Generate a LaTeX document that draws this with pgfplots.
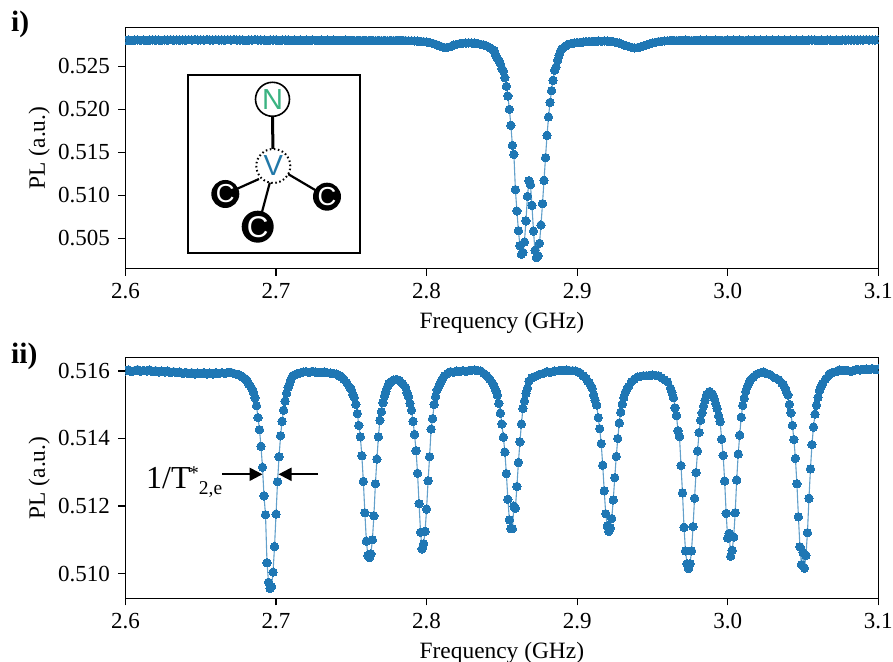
\documentclass[border=0pt]{standalone}
\usepackage{pgfplots}
\pgfplotsset{compat=1.18}
\usepackage{fontspec}
\setmainfont{Liberation Serif}
\newfontfamily\hel{Liberation Sans}
\usetikzlibrary{arrows.meta}
\definecolor{tabblue}{HTML}{1F77B4}
\definecolor{nv}{HTML}{3BB382}
\definecolor{vv}{HTML}{2178A8}
\newcommand{\fs}{\fontsize{23bp}{26bp}\selectfont}
\pgfplotsset{panel/.style={
  scale only axis,width=752.7bp,xmin=2.6,xmax=3.1,
  axis line style={line width=1.2bp,black},
  tick style={line width=1.1bp,black},
  tick align=outside,major tick length=7bp,
  xtick={2.6,2.7,2.8,2.9,3.0,3.1},
  xtick pos=bottom,ytick pos=left,
  scaled ticks=false,clip marker paths=true,
  tick label style={font=\fs,inner sep=0pt},
  label style={font=\fontsize{23.4bp}{26bp}\selectfont,inner sep=0pt},
  xticklabel style={anchor=base,yshift=-23bp,/pgf/number format/.cd,fixed,fixed zerofill,precision=1,assume math mode=true},
  yticklabel style={anchor=east,xshift=-8.5bp,/pgf/number format/.cd,fixed,fixed zerofill,precision=3,assume math mode=true},
  xlabel={Frequency (GHz)},ylabel={PL (a.u.)},
  xlabel style={at={(axis description cs:0.5,0)},anchor=base,yshift=-60bp},
  ylabel style={at={(axis description cs:0,0.5)},anchor=base,yshift=80.5bp},
  },
  ser/.style={color=tabblue,draw opacity=0.7,line width=1.1bp,mark=*,mark size=4.2bp,
   mark options={draw=tabblue,fill=tabblue,draw opacity=1,fill opacity=1,line width=0pt}}}
\begin{document}
\begin{tikzpicture}[x=1bp,y=1bp]
\path[use as bounding box] (0,0) rectangle (893,662);
\begin{axis}[panel,at={(125.5bp,393.3bp)},height=241.4bp,ymin=0.50147,ymax=0.52954,
 ytick={0.505,0.510,0.515,0.520,0.525}]
\addplot[ser] coordinates {
(2.600,.52802)(2.602,.52805)(2.604,.52800)(2.606,.52804)(2.608,.52807)(2.610,.52803)(2.612,.52806)(2.614,.52801)(2.616,.52805)(2.618,.52808)
(2.620,.52804)(2.622,.52806)(2.624,.52802)(2.626,.52807)(2.628,.52805)(2.630,.52809)(2.632,.52804)(2.634,.52807)(2.636,.52805)(2.638,.52808)
(2.640,.52804)(2.642,.52809)(2.644,.52806)(2.646,.52810)(2.648,.52805)(2.650,.52808)(2.652,.52806)(2.654,.52810)(2.656,.52807)(2.658,.52805)
(2.660,.52809)(2.662,.52806)(2.664,.52808)(2.666,.52804)(2.668,.52809)(2.670,.52806)(2.672,.52810)(2.674,.52805)(2.676,.52808)(2.678,.52806)
(2.680,.52803)(2.682,.52808)(2.684,.52805)(2.686,.52809)(2.688,.52804)(2.690,.52807)(2.692,.52805)(2.694,.52802)(2.696,.52807)(2.698,.52804)
(2.700,.52808)(2.702,.52803)(2.704,.52806)(2.706,.52804)(2.708,.52807)(2.710,.52802)(2.712,.52805)(2.714,.52803)(2.716,.52806)(2.718,.52801)
(2.720,.52805)(2.722,.52802)(2.724,.52806)(2.726,.52803)(2.728,.52801)(2.730,.52805)(2.732,.52802)(2.734,.52804)(2.736,.52800)(2.738,.52804)
(2.740,.52801)(2.742,.52803)(2.744,.52800)(2.746,.52804)(2.748,.52801)(2.750,.52803)(2.752,.52799)(2.754,.52802)(2.756,.52800)(2.758,.52803)
(2.760,.52799)(2.762,.52802)(2.764,.52800)(2.766,.52798)(2.768,.52802)(2.770,.52799)(2.772,.52801)(2.774,.52798)(2.776,.52801)(2.778,.52799)
(2.780,.52802)(2.782,.52800)(2.784,.52802)(2.786,.52799)(2.788,.52797)(2.790,.52797)(2.792,.52795)(2.794,.52793)(2.796,.52790)(2.798,.52787)
(2.800,.52783)(2.802,.52776)(2.804,.52768)(2.806,.52756)(2.808,.52742)(2.810,.52728)(2.812,.52717)(2.814,.52722)(2.816,.52730)(2.818,.52748)
(2.820,.52756)(2.822,.52764)(2.824,.52768)(2.826,.52771)(2.828,.52773)(2.830,.52771)(2.832,.52769)(2.834,.52765)(2.836,.52756)(2.838,.52748)
(2.840,.52736)(2.842,.52717)(2.844,.52694)(2.845,.52680)(2.846,.52628)(2.847,.52590)(2.848,.52570)(2.849,.52530)(2.850,.52473)
(2.851,.52446)(2.852,.52368)(2.853,.52267)(2.854,.52155)(2.855,.52000)(2.856,.51814)(2.857,.51581)(2.858,.51477)(2.859,.51066)
(2.860,.50818)(2.861,.50589)(2.862,.50415)(2.863,.50314)(2.864,.50337)(2.865,.50457)(2.866,.50702)(2.867,.50988)(2.868,.51170)(2.869,.51124)
(2.870,.50884)(2.871,.50585)(2.872,.50360)(2.873,.50275)(2.874,.50298)(2.875,.50442)(2.876,.50655)(2.877,.50903)(2.878,.51174)(2.879,.51438)
(2.880,.51698)(2.881,.51911)(2.882,.52081)(2.883,.52217)(2.884,.52337)(2.885,.52453)(2.886,.52492)(2.887,.52570)(2.888,.52628)(2.889,.52678)
(2.890,.52705)(2.892,.52733)(2.894,.52756)(2.896,.52765)(2.898,.52771)(2.900,.52775)(2.902,.52779)(2.904,.52783)(2.906,.52787)(2.908,.52789)
(2.910,.52791)(2.912,.52790)(2.914,.52795)(2.916,.52792)(2.918,.52796)(2.920,.52794)(2.922,.52790)(2.924,.52787)(2.926,.52779)(2.928,.52771)
(2.930,.52756)(2.932,.52744)(2.934,.52733)(2.936,.52722)(2.938,.52714)(2.940,.52717)(2.942,.52725)(2.944,.52737)(2.946,.52748)(2.948,.52760)
(2.950,.52771)(2.952,.52779)(2.954,.52787)(2.956,.52791)(2.958,.52795)(2.960,.52797)(2.962,.52800)(2.964,.52802)(2.966,.52799)(2.968,.52803)
(2.970,.52800)(2.972,.52804)(2.974,.52801)(2.976,.52799)(2.978,.52803)(2.980,.52800)(2.982,.52804)(2.984,.52801)(2.986,.52805)(2.988,.52802)
(2.990,.52800)(2.992,.52804)(2.994,.52801)(2.996,.52803)(2.998,.52800)(3.000,.52804)(3.002,.52802)(3.004,.52806)(3.006,.52801)(3.008,.52804)
(3.010,.52802)(3.012,.52800)(3.014,.52804)(3.016,.52801)(3.018,.52805)(3.020,.52802)(3.022,.52804)(3.024,.52800)(3.026,.52804)(3.028,.52802)
(3.030,.52805)(3.032,.52801)(3.034,.52804)(3.036,.52802)(3.038,.52806)(3.040,.52803)(3.042,.52805)(3.044,.52801)(3.046,.52804)(3.048,.52802)
(3.050,.52806)(3.052,.52803)(3.054,.52807)(3.056,.52804)(3.058,.52806)(3.060,.52802)(3.062,.52805)(3.064,.52803)(3.066,.52807)(3.068,.52804)
(3.070,.52802)(3.072,.52806)(3.074,.52803)(3.076,.52807)(3.078,.52804)(3.080,.52808)(3.082,.52805)(3.084,.52807)(3.086,.52804)(3.088,.52808)
(3.090,.52805)(3.092,.52809)(3.094,.52806)(3.096,.52808)(3.098,.52805)(3.100,.52809)
};
\end{axis}
\begin{axis}[panel,at={(125.5bp,63.5bp)},height=241bp,ymin=0.50926,ymax=0.51640,
 ytick={0.510,0.512,0.514,0.516}]
\addplot[ser] coordinates {
(2.600,.51600)(2.602,.51603)(2.604,.51598)(2.606,.51601)(2.608,.51604)(2.610,.51599)(2.612,.51602)(2.614,.51600)(2.616,.51603)(2.618,.51598)
(2.620,.51601)(2.622,.51597)(2.624,.51600)(2.626,.51597)(2.628,.51600)(2.630,.51595)(2.632,.51598)(2.634,.51595)(2.636,.51597)(2.638,.51593)
(2.640,.51596)(2.642,.51592)(2.644,.51595)(2.646,.51591)(2.648,.51594)(2.650,.51592)(2.652,.51595)(2.654,.51591)(2.656,.51594)(2.658,.51591)
(2.660,.51595)(2.662,.51592)(2.664,.51595)(2.666,.51593)(2.668,.51596)(2.670,.51596)(2.672,.51593)(2.674,.51590)(2.675,.51590)(2.676,.51587)
(2.677,.51585)(2.678,.51582)(2.679,.51578)(2.680,.51574)(2.681,.51570)(2.682,.51560)(2.683,.51555)(2.684,.51547)(2.685,.51537)(2.686,.51521)
(2.687,.51497)(2.688,.51462)(2.689,.51426)(2.690,.51377)(2.691,.51315)(2.692,.51230)(2.693,.51174)(2.694,.51032)(2.695,.50974)(2.696,.50956)
(2.697,.50961)(2.698,.51004)(2.699,.51080)(2.700,.51176)(2.701,.51272)(2.702,.51346)(2.703,.51408)(2.704,.51451)(2.705,.51484)(2.706,.51511)
(2.707,.51534)(2.708,.51551)(2.709,.51563)(2.710,.51576)(2.711,.51585)(2.712,.51588)(2.713,.51590)(2.714,.51592)(2.715,.51593)(2.716,.51594)
(2.718,.51597)(2.720,.51598)(2.722,.51596)(2.724,.51599)(2.726,.51597)(2.728,.51596)(2.730,.51595)(2.732,.51597)(2.734,.51595)(2.736,.51594)
(2.738,.51593)(2.740,.51591)(2.742,.51585)(2.743,.51585)(2.745,.51576)(2.747,.51565)(2.749,.51552)(2.750,.51545)(2.751,.51531)(2.752,.51521)
(2.753,.51501)(2.754,.51474)(2.755,.51439)(2.756,.51405)(2.757,.51349)(2.758,.51273)(2.759,.51180)(2.760,.51096)(2.761,.51054)(2.762,.51047)
(2.763,.51058)(2.764,.51100)(2.765,.51171)(2.766,.51266)(2.767,.51339)(2.768,.51405)(2.769,.51454)(2.770,.51479)(2.771,.51506)(2.772,.51526)
(2.773,.51539)(2.774,.51553)(2.775,.51563)(2.776,.51566)(2.777,.51570)(2.778,.51573)(2.780,.51575)(2.782,.51572)(2.784,.51563)(2.786,.51552)
(2.787,.51536)(2.788,.51524)(2.789,.51504)(2.790,.51484)(2.791,.51451)(2.792,.51412)(2.793,.51364)(2.794,.51297)(2.795,.51207)(2.796,.51122)
(2.797,.51073)(2.798,.51088)(2.799,.51125)(2.800,.51191)(2.801,.51275)(2.802,.51346)(2.803,.51428)(2.804,.51459)(2.805,.51501)(2.806,.51524)
(2.807,.51544)(2.808,.51553)(2.809,.51563)(2.810,.51573)(2.811,.51580)(2.812,.51586)(2.814,.51593)(2.816,.51598)(2.818,.51596)(2.820,.51600)
(2.822,.51598)(2.824,.51601)(2.826,.51599)(2.828,.51601)(2.830,.51602)(2.832,.51603)(2.834,.51601)(2.836,.51600)(2.838,.51593)(2.840,.51586)
(2.842,.51576)(2.844,.51562)(2.845,.51553)(2.846,.51543)(2.847,.51529)(2.848,.51504)(2.849,.51475)(2.850,.51443)(2.851,.51404)(2.852,.51360)
(2.853,.51296)(2.854,.51220)(2.855,.51159)(2.856,.51133)(2.857,.51133)(2.858,.51200)(2.859,.51193)(2.860,.51258)(2.861,.51329)(2.862,.51390)
(2.863,.51443)(2.864,.51489)(2.865,.51511)(2.866,.51534)(2.867,.51549)(2.868,.51570)(2.870,.51580)(2.872,.51584)(2.875,.51590)(2.878,.51594)
(2.880,.51598)(2.882,.51596)(2.885,.51600)(2.888,.51601)(2.890,.51602)(2.892,.51601)(2.893,.51603)(2.895,.51601)(2.897,.51601)(2.899,.51600)
(2.900,.51598)(2.902,.51594)(2.904,.51586)(2.906,.51578)(2.907,.51570)(2.908,.51566)(2.909,.51558)(2.910,.51549)(2.911,.51529)(2.912,.51514)
(2.913,.51499)(2.914,.51462)(2.915,.51429)(2.916,.51385)(2.917,.51321)(2.918,.51245)(2.919,.51177)(2.920,.51141)(2.921,.51125)(2.922,.51135)
(2.923,.51163)(2.924,.51218)(2.925,.51284)(2.926,.51347)(2.927,.51400)(2.928,.51446)(2.929,.51478)(2.930,.51502)(2.931,.51521)(2.932,.51537)
(2.933,.51545)(2.934,.51553)(2.936,.51568)(2.938,.51576)(2.940,.51582)(2.942,.51584)(2.944,.51586)(2.946,.51586)(2.948,.51587)(2.950,.51588)
(2.952,.51587)(2.954,.51586)(2.956,.51580)(2.958,.51574)(2.960,.51568)(2.962,.51549)(2.963,.51537)(2.964,.51521)(2.965,.51491)(2.966,.51468)
(2.967,.51423)(2.968,.51406)(2.969,.51320)(2.970,.51239)(2.971,.51137)(2.972,.51067)(2.973,.51029)(2.974,.51015)(2.975,.51029)(2.976,.51067)
(2.977,.51139)(2.978,.51223)(2.979,.51299)(2.980,.51363)(2.981,.51418)(2.982,.51454)(2.983,.51476)(2.984,.51496)(2.985,.51514)(2.986,.51529)
(2.987,.51534)(2.988,.51539)(2.989,.51534)(2.990,.51531)(2.991,.51519)(2.992,.51504)(2.993,.51489)(2.994,.51467)(2.995,.51450)(2.996,.51398)
(2.997,.51350)(2.998,.51274)(2.999,.51178)(3.000,.51105)(3.001,.51119)(3.002,.51051)(3.003,.51069)(3.004,.51108)(3.005,.51180)(3.006,.51277)
(3.007,.51354)(3.008,.51410)(3.009,.51463)(3.010,.51498)(3.011,.51519)(3.012,.51539)(3.013,.51553)(3.014,.51563)(3.015,.51573)(3.017,.51582)
(3.019,.51590)(3.022,.51595)(3.024,.51597)(3.025,.51594)(3.028,.51590)(3.031,.51580)(3.034,.51574)(3.036,.51564)(3.037,.51560)(3.038,.51550)
(3.039,.51539)(3.040,.51529)(3.041,.51501)(3.042,.51476)(3.043,.51439)(3.044,.51397)(3.045,.51341)(3.046,.51266)(3.047,.51168)(3.048,.51079)
(3.049,.51026)(3.050,.51063)(3.051,.51016)(3.052,.51054)(3.053,.51121)(3.054,.51223)(3.055,.51310)(3.056,.51382)(3.057,.51434)(3.058,.51472)
(3.059,.51499)(3.060,.51522)(3.061,.51542)(3.062,.51553)(3.063,.51563)(3.065,.51576)(3.067,.51586)(3.068,.51593)(3.070,.51596)(3.072,.51598)
(3.074,.51603)(3.076,.51601)(3.078,.51602)(3.080,.51601)(3.082,.51599)(3.084,.51602)(3.086,.51605)(3.088,.51603)(3.090,.51605)(3.092,.51606)
(3.094,.51604)(3.096,.51607)(3.098,.51605)(3.100,.51606)
};
\end{axis}
% inset schematic
\draw[fill=white,line width=1.1bp] (188,409) rectangle (360,587);
\draw[line width=3bp] (272.5,545) -- (273,510);
\draw[line width=2.2bp] (259,483) -- (225.5,468);
\draw[line width=2.2bp] (288,488) -- (327,465);
\draw[line width=2.2bp] (270,480) -- (258,435);
\draw[fill=white,line width=1.6bp] (272.5,562.7) circle (17);
\draw[fill=white,line width=2bp,dash pattern=on 1.5bp off 2.6bp] (273.3,496) circle (17);
\fill (225.3,468) circle (14);
\fill (327,465.3) circle (14);
\fill (257.7,435.3) circle (16);
\node[text=nv,font=\hel\fontsize{29bp}{30bp}\selectfont,inner sep=0pt] at (272.5,562.7) {N};
\node[text=vv,font=\hel\fontsize{29bp}{30bp}\selectfont,inner sep=0pt] at (273.3,496) {V};
\node[text=white,font=\hel\fontsize{26bp}{28bp}\selectfont,inner sep=0pt] at (225.3,468) {C};
\node[text=white,font=\hel\fontsize{26bp}{28bp}\selectfont,inner sep=0pt] at (327,465.3) {C};
\node[text=white,font=\hel\fontsize{30bp}{32bp}\selectfont,inner sep=0pt] at (257.7,435.3) {C};
% annotation
\node[anchor=base west,inner sep=0pt,font=\fontsize{32bp}{35bp}\selectfont] at (146,173.7) {1/T\hspace{-1.5bp}\raisebox{8.3bp}{\fontsize{19.5bp}{22bp}\selectfont *}\raisebox{-6bp}{\fontsize{19.5bp}{22bp}\selectfont 2,e}};
\draw[line width=2bp,-{Triangle[length=13bp,width=13bp]}] (222,187.7) -- (262.5,187.7);
\draw[line width=2bp,-{Triangle[length=13bp,width=13bp]}] (318,187.7) -- (278.5,187.7);
% panel tags
\node[anchor=base west,inner sep=0pt,font=\bfseries\fontsize{29.5bp}{32bp}\selectfont] at (11,630) {i)};
\node[anchor=base west,inner sep=0pt,font=\bfseries\fontsize{29.5bp}{32bp}\selectfont] at (11,298.3) {ii)};
\end{tikzpicture}
\end{document}
